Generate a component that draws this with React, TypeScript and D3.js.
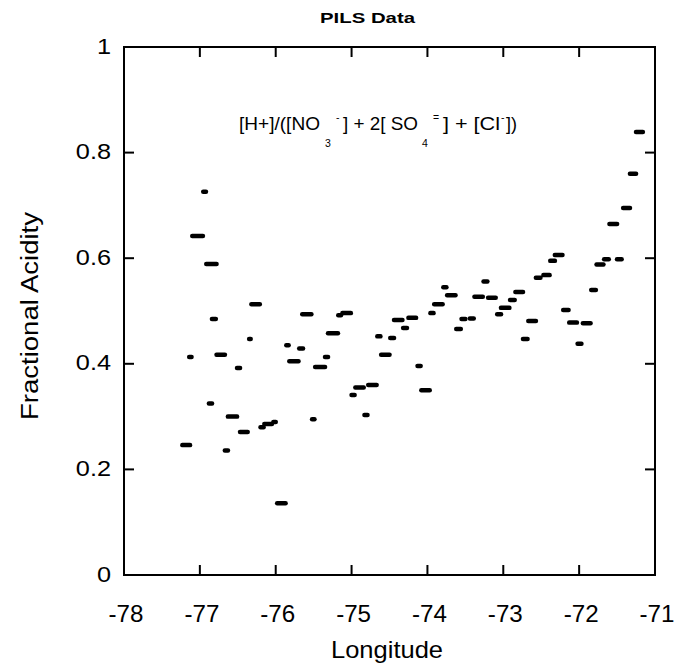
import React from "react";
import * as d3 from "d3";

const lonStart = [-77.26,-77.17,-77.13,-76.985,-76.945,-76.91,-76.87,-76.81,-76.70,-76.66,-76.54,-76.50,-76.38,-76.35,-76.23,-76.18,-76.06,-76.01,-75.89,-75.85,-75.72,-75.68,-75.55,-75.51,-75.38,-75.34,-75.205,-75.15,-75.03,-74.98,-74.86,-74.81,-74.69,-74.64,-74.52,-74.47,-74.35,-74.28,-74.16,-74.11,-73.99,-73.94,-73.82,-73.77,-73.65,-73.58,-73.47,-73.41,-73.29,-73.23,-73.11,-73.06,-72.94,-72.87,-72.77,-72.70,-72.60,-72.50,-72.41,-72.35,-72.24,-72.16,-72.05,-71.98,-71.87,-71.80,-71.70,-71.63,-71.53,-71.45,-71.36,-71.28];
const lonEnd = [-77.10,-77.08,-76.93,-76.89,-76.75,-76.81,-76.76,-76.64,-76.60,-76.48,-76.44,-76.34,-76.30,-76.18,-76.13,-76.02,-75.97,-75.84,-75.80,-75.67,-75.61,-75.50,-75.46,-75.32,-75.28,-75.15,-75.11,-74.98,-74.93,-74.81,-74.76,-74.64,-74.59,-74.47,-74.41,-74.30,-74.24,-74.12,-74.06,-73.94,-73.89,-73.77,-73.72,-73.60,-73.53,-73.47,-73.36,-73.24,-73.18,-73.07,-73.00,-72.89,-72.82,-72.71,-72.65,-72.54,-72.48,-72.36,-72.29,-72.19,-72.11,-72.00,-71.94,-71.82,-71.75,-71.65,-71.58,-71.47,-71.41,-71.30,-71.22,-71.13];
const acidity = [0.246,0.413,0.642,0.726,0.589,0.325,0.485,0.417,0.236,0.300,0.392,0.271,0.447,0.513,0.280,0.286,0.290,0.136,0.435,0.405,0.429,0.494,0.295,0.394,0.413,0.458,0.492,0.496,0.341,0.355,0.303,0.360,0.452,0.417,0.449,0.483,0.468,0.487,0.396,0.350,0.496,0.513,0.545,0.530,0.466,0.485,0.486,0.527,0.556,0.525,0.494,0.506,0.521,0.536,0.447,0.481,0.563,0.568,0.595,0.606,0.502,0.478,0.438,0.477,0.540,0.588,0.598,0.665,0.598,0.695,0.760,0.839];

const xTicks = [-78, -77, -76, -75, -74, -73, -72, -71];
const yTicks = [0, 0.2, 0.4, 0.6, 0.8, 1];
const yTickLabels = ["0", "0.2", "0.4", "0.6", "0.8", "1"];

const W = 674, H = 670;
const L = 124, R = 655, T = 47, B = 575;
const font = "Arial, 'Liberation Sans', Helvetica, sans-serif";

export default function App() {
  const x = d3.scaleLinear().domain([-78, -71]).range([L, R]);
  const y = d3.scaleLinear().domain([0, 1]).range([B, T]);
  const tickLen = 10;
  const bh = 4.5;
  const ann = 17.5;
  const sub = 10.5;
  return (
    <div style={{ position: "fixed", left: 0, top: 0, background: "#fff" }}>
      <svg width={W} height={H} style={{ display: "block" }}>
        <rect width={W} height={H} fill="#fff" />
        <text x={367.5} y={23} textAnchor="middle" fontFamily={font} fontWeight="bold" fontSize={15.5} textLength={95} lengthAdjust="spacingAndGlyphs">PILS Data</text>
        {acidity.map((v, i) => {
          const x0 = x(lonStart[i]);
          const x1 = x(lonEnd[i]);
          return <rect key={i} x={x0} y={y(v) - bh / 2} width={Math.max(x1 - x0, 4)} height={bh} rx={2.2} fill="#000" />;
        })}
        <rect x={L} y={T} width={R - L} height={B - T} fill="none" stroke="#000" strokeWidth={2} />
        {xTicks.map((t) => (
          <g key={"x" + t}>
            <line x1={x(t)} x2={x(t)} y1={B} y2={B - tickLen} stroke="#000" strokeWidth={2} />
            <line x1={x(t)} x2={x(t)} y1={T} y2={T + tickLen} stroke="#000" strokeWidth={2} />
            <text transform={`translate(${x(t) + 2},622) scale(1.05,1)`} textAnchor="middle" fontFamily={font} fontSize={23}>{t}</text>
          </g>
        ))}
        {yTicks.map((t, i) => (
          <g key={"y" + t}>
            <line x1={L} x2={L + tickLen} y1={y(t)} y2={y(t)} stroke="#000" strokeWidth={2} />
            <line x1={R} x2={R - tickLen} y1={y(t)} y2={y(t)} stroke="#000" strokeWidth={2} />
            <text transform={`translate(111,${y(t) + 6.5}) scale(1.15,1)`} textAnchor="end" fontFamily={font} fontSize={22}>{yTickLabels[i]}</text>
          </g>
        ))}
        <text x={387} y={658} textAnchor="middle" fontFamily={font} fontSize={24} textLength={112} lengthAdjust="spacingAndGlyphs">Longitude</text>
        <text transform={`translate(38,316) rotate(-90)`} textAnchor="middle" fontFamily={font} fontSize={23} textLength={208} lengthAdjust="spacingAndGlyphs">Fractional Acidity</text>
        <g fontFamily={font}>
          <text x={239} y={129.5} fontSize={ann} textLength={81} lengthAdjust="spacingAndGlyphs">[H+]/([NO</text>
          <text x={325} y={147} fontSize={sub}>3</text>
          <text x={336} y={121} fontSize={sub}>-</text>
          <text x={343} y={129.5} fontSize={ann} textLength={75} lengthAdjust="spacingAndGlyphs">] + 2[ SO</text>
          <text x={422} y={147} fontSize={sub}>4</text>
          <text x={433} y={121} fontSize={sub}>=</text>
          <text x={443} y={129.5} fontSize={ann} textLength={57} lengthAdjust="spacingAndGlyphs">] + [Cl</text>
          <text x={501} y={121} fontSize={sub}>-</text>
          <text x={506} y={129.5} fontSize={ann} textLength={11} lengthAdjust="spacingAndGlyphs">])</text>
        </g>
      </svg>
    </div>
  );
}
